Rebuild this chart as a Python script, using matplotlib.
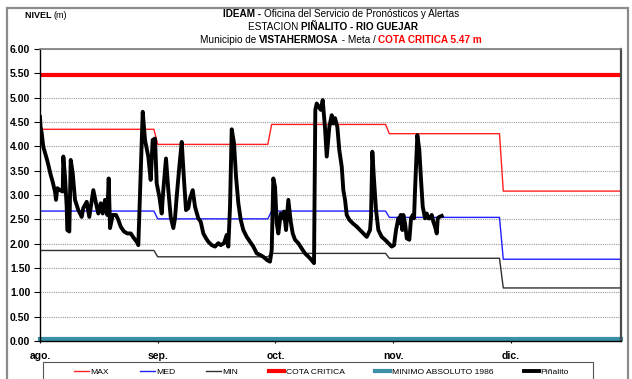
import matplotlib
matplotlib.use("Agg")
import matplotlib.pyplot as plt
from matplotlib import font_manager
from matplotlib.patches import Rectangle

# ---------------------------------------------------------------- data
# days counted from 1 August; the axis runs to 1 January
meses = ["ago.", "sep.", "oct.", "nov.", "dic."]
inicio_mes = [0, 31, 61, 92, 122]
fin_periodo = 153
paso_etiquetas = 31

nivel_max = [4.35, 4.04, 4.45, 4.26, 3.08]
nivel_med = [2.67, 2.51, 2.67, 2.54, 1.68]
nivel_min = [1.86, 1.73, 1.80, 1.70, 1.09]
cota_critica = 5.47
minimo_absoluto = 0.05

dias = [0.0, 0.15, 0.45, 0.87, 1.76, 2.19, 2.82, 3.34, 3.95, 4.21, 4.56, 5.27, 5.98,
        6.14, 6.58, 7.03, 7.19, 7.72, 8.09, 8.61, 9.22, 10.09, 10.98, 11.40,
        12.30, 12.98, 14.04, 14.75, 15.35, 15.99, 16.51, 17.12, 17.72, 18.09,
        18.44, 19.15, 20.02, 20.62, 21.25, 22.12, 22.99, 23.89, 24.76, 25.47,
        25.89, 27.05, 27.65, 28.52, 29.15, 29.68, 30.29, 30.73, 31.42, 32.05,
        32.47, 33.18, 33.79, 34.42, 35.11, 35.55, 36.00, 36.69, 37.32, 37.92,
        38.45, 39.06, 39.50, 40.22, 40.82, 41.69, 42.32, 43.01, 43.72, 44.32,
        45.22, 46.09, 46.96, 47.59, 48.46, 49.17, 49.59, 50.04, 50.49, 51.09,
        51.62, 52.23, 52.86, 53.54, 54.44, 55.31, 56.18, 57.07, 57.94, 58.81,
        59.86, 60.57, 61.02, 61.44, 61.89, 62.34, 62.76, 63.39, 63.92, 64.26,
        64.79, 65.39, 66.03, 66.55, 67.16, 68.03, 68.92, 69.79, 71.11, 72.16,
        72.50, 72.87, 73.93, 74.45, 75.06, 75.51, 76.19, 76.82, 77.25, 77.69,
        78.30, 78.82, 79.46, 79.88, 80.33, 80.77, 81.46, 82.35, 83.41, 84.28,
        85.15, 86.04, 86.91, 87.17, 87.52, 87.96, 88.49, 89.10, 89.99, 90.86,
        91.73, 92.63, 93.23, 93.76, 94.36, 94.63, 94.99, 95.42, 95.68, 96.13,
        96.58, 97.26, 97.71, 98.16, 98.50, 98.76, 99.37, 99.89, 100.34, 100.79,
        101.40, 101.84, 102.27, 102.71, 103.16, 103.58, 104.03, 104.48, 104.74,
        105.16, 105.79]
pinalito = [4.60, 4.40, 4.27, 3.99, 3.75, 3.62, 3.41, 3.27, 3.07, 2.90, 3.14, 3.10,
            3.07, 3.79, 3.38, 2.76, 2.28, 2.25, 3.72, 3.45, 2.90, 2.69, 2.55,
            2.73, 2.86, 2.55, 3.10, 2.83, 2.62, 2.83, 2.62, 2.90, 2.59, 3.34,
            2.32, 2.59, 2.59, 2.49, 2.35, 2.25, 2.21, 2.21, 2.11, 2.04, 1.97,
            4.71, 4.13, 3.79, 3.31, 4.13, 4.16, 3.24, 2.97, 2.62, 3.10, 3.75,
            3.10, 2.55, 2.32, 2.52, 2.97, 3.58, 4.09, 3.31, 2.69, 2.73, 2.93,
            3.10, 2.76, 2.52, 2.45, 2.21, 2.11, 2.04, 1.97, 1.94, 2.01, 1.97,
            2.01, 2.18, 1.94, 2.76, 4.35, 4.06, 3.38, 2.83, 2.49, 2.28, 2.14,
            2.04, 1.94, 1.80, 1.77, 1.73, 1.66, 1.63, 1.87, 3.34, 3.17, 2.42,
            2.21, 2.62, 2.52, 2.66, 2.28, 2.90, 2.45, 2.21, 2.08, 2.01, 1.90,
            1.80, 1.70, 1.60, 4.75, 4.88, 4.75, 4.95, 4.37, 3.79, 4.40, 4.64,
            4.47, 4.58, 4.40, 3.92, 3.58, 3.10, 2.90, 2.59, 2.49, 2.42, 2.35,
            2.28, 2.21, 2.14, 2.28, 2.55, 3.89, 3.31, 2.69, 2.28, 2.14, 2.08,
            2.01, 1.94, 1.97, 2.28, 2.52, 2.42, 2.59, 2.28, 2.59, 2.42, 2.11,
            2.08, 2.52, 2.59, 2.52, 3.10, 4.23, 3.92, 3.31, 2.76, 2.52, 2.62,
            2.52, 2.52, 2.59, 2.45, 2.35, 2.21, 2.52, 2.55, 2.57]

# ---------------------------------------------------------------- fonts
nombres = {f.name for f in font_manager.fontManager.ttflist}
ANGOSTA = "Liberation Sans Narrow" if "Liberation Sans Narrow" in nombres else "Liberation Sans"
NORMAL = "Liberation Sans"
plt.rcParams["font.family"] = [NORMAL, "DejaVu Sans"]
esc = 1.0 if ANGOSTA != NORMAL else 0.9


def escalones(valores):
    """Monthly values drawn as flat segments joined at the month change."""
    xs, ys = [], []
    for i, v in enumerate(valores):
        x0 = inicio_mes[i]
        x1 = inicio_mes[i + 1] - 1 if i + 1 < len(inicio_mes) else fin_periodo
        xs += [x0, x1]
        ys += [v, v]
    return xs, ys


W, H = 632, 379
fig = plt.figure(figsize=(W / 100, H / 100), dpi=100)
ax = fig.add_axes([40 / W, 1 - 341 / H, (621 - 40) / W, (341 - 49) / H])

# outer frame of the whole sheet
fig.patches.append(Rectangle((7 / W, -0.1), (628 - 7) / W, 1 - 8 / H + 0.1,
                             transform=fig.transFigure, fill=False,
                             edgecolor="#8c8c8c", lw=1.6, zorder=0))

ax.set_xlim(0, fin_periodo)
ax.set_ylim(0, 6)
ax.set_yticks([i * 0.5 for i in range(13)])
ax.set_yticklabels([f"{i * 0.5:.2f}" for i in range(13)],
                   fontsize=7.5, fontweight="bold", family=NORMAL)
ticks_x = [k * paso_etiquetas for k in range(len(meses))]
ax.set_xticks(ticks_x)
ax.set_xticklabels(meses, fontsize=7.5, fontweight="bold", family=NORMAL)
ax.tick_params(axis="y", length=4, width=0.8, pad=3, direction="out")
ax.tick_params(axis="x", length=3, width=0.8, pad=6, direction="inout")
ax.yaxis.grid(True, linestyle=(0, (1, 1)), color="#9a9a9a", lw=0.8)
ax.set_axisbelow(True)
for lado, col, lw in [("left", "black", 1.0), ("bottom", "black", 1.0),
                      ("top", "#7a7a7a", 1.2), ("right", "#4a4a4a", 1.6)]:
    ax.spines[lado].set_color(col)
    ax.spines[lado].set_linewidth(lw)

x, y = escalones(nivel_max)
ax.plot(x, y, color="#ff2020", lw=1.0, label="MAX")
x, y = escalones(nivel_med)
ax.plot(x, y, color="#2020ff", lw=1.0, label="MED")
x, y = escalones(nivel_min)
ax.plot(x, y, color="#303030", lw=1.0, label="MIN")
ax.axhline(cota_critica, color="#ff0000", lw=3.0, label="COTA CRITICA")
ax.axhline(minimo_absoluto, color="#3b8fa6", lw=3.0, label="MINIMO ABSOLUTO 1986",
           clip_on=False)
ax.plot(dias, pinalito, color="black", lw=2.8, solid_joinstyle="round",
        label="Piñalito")

# legend in its own box under the axis
fig.patches.append(Rectangle((43 / W, -0.1), (593 - 43) / W, 0.1 + 1 - 362 / H,
                             transform=fig.transFigure, fill=False,
                             edgecolor="#555555", lw=0.8))
manejadores, etiquetas = ax.get_legend_handles_labels()
leg = fig.legend(manejadores, etiquetas, loc="center left",
                 bbox_to_anchor=(74 / W, 1 - 372 / H), ncol=6, frameon=False,
                 prop={"family": ANGOSTA, "size": 6.8 * esc}, handlelength=1.8,
                 handletextpad=0.15, columnspacing=3.6, borderpad=0, borderaxespad=0)

# title block built from bold / regular / red pieces
fig.canvas.draw()
renderer = fig.canvas.get_renderer()


def linea(piezas, y_px, xc_px, size=8):
    textos = []
    for txt, peso, col in piezas:
        t = fig.text(0, 1 - y_px / H, txt, fontsize=size, fontweight=peso,
                     color=col, family=ANGOSTA, va="center", ha="left")
        textos.append(t)
    anchos = [t.get_window_extent(renderer).width for t in textos]
    x0 = xc_px - sum(anchos) / 2
    for t, a in zip(textos, anchos):
        t.set_x(x0 / W)
        x0 += a


linea([("IDEAM - ", "bold", "black"),
       ("Oficina del Servicio de Pronósticos y Alertas", "normal", "black")], 14, 341,
      size=8 * esc)
linea([("ESTACION ", "normal", "black"),
       ("PIÑALITO - RIO GUEJAR", "bold", "black")], 27, 333, size=8 * esc)
linea([("Municipio de ", "normal", "black"),
       ("VISTAHERMOSA", "bold", "black"),
       (" - Meta / ", "normal", "black"),
       ("COTA CRITICA 5.47 m", "bold", "#ff0000")], 40, 341, size=8 * esc)
linea([("NIVEL ", "bold", "black"), ("(m)", "normal", "black")], 15, 46, size=6.5)

fig.savefig("out.png", dpi=100)
